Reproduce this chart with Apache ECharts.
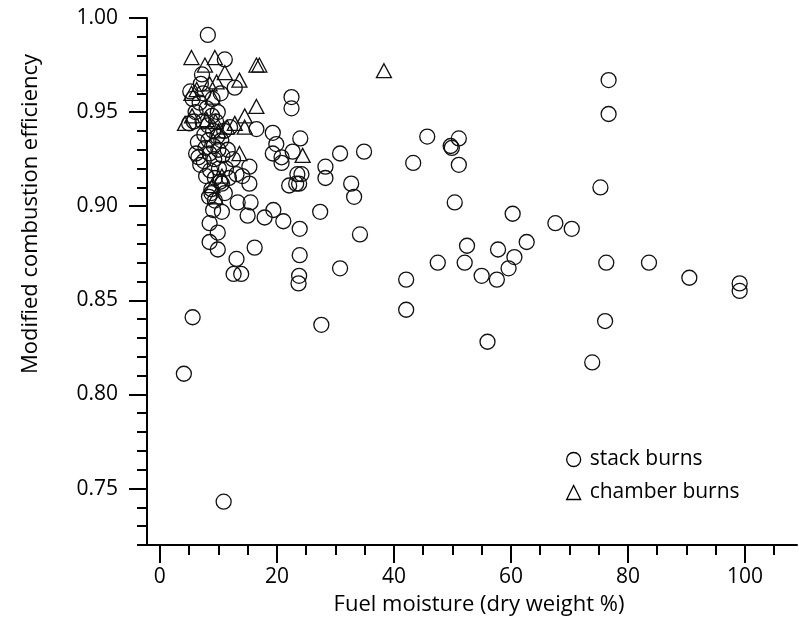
<!DOCTYPE html>
<html><head><meta charset="utf-8">
<script src="https://cdn.jsdelivr.net/npm/echarts@6/dist/echarts.min.js"></script>
<style>html,body{margin:0;padding:0;background:#fff}#c{width:799px;height:644px}</style>
</head><body><div id="c"></div>
<script>
// stack burns: [fuel moisture %, MCE]
const stackBurns = [
  [8.2,0.991],[11.1,0.978],[12.8,0.963],[22.5,0.958],[22.5,0.952],[16.5,0.941],[19.3,0.939],
  [24.0,0.936],[19.9,0.933],[19.3,0.928],[20.8,0.926],[22.7,0.929],[20.8,0.923],[15.3,0.921],
  [24.2,0.917],[23.8,0.912],[30.8,0.928],[34.9,0.929],[28.3,0.921],[28.3,0.915],[32.7,0.912],
  [33.2,0.905],[45.7,0.937],[51.1,0.936],[49.7,0.932],[49.9,0.931],[43.3,0.923],[51.1,0.922],
  [50.4,0.902],[27.4,0.897],[60.3,0.896],[67.6,0.891],[70.4,0.888],[75.3,0.910],[76.7,0.967],
  [76.7,0.949],[23.9,0.888],[34.2,0.885],[62.7,0.881],[52.5,0.879],[57.8,0.877],[60.6,0.873],
  [59.6,0.867],[23.9,0.874],[47.5,0.870],[52.1,0.870],[55.0,0.863],[57.6,0.861],[23.8,0.863],
  [23.7,0.859],[30.8,0.867],[42.1,0.861],[42.1,0.845],[27.6,0.837],[56.0,0.828],[76.3,0.870],
  [83.6,0.870],[90.5,0.862],[99.1,0.859],[99.1,0.855],[76.1,0.839],[73.9,0.817],
  [5.6,0.841],[4.1,0.811],[10.9,0.743],
  [21.1,0.892],[19.4,0.898],[17.9,0.894],[15.0,0.895],[13.3,0.902],[15.5,0.902],[16.2,0.878],
  [13.1,0.872],[12.6,0.864],[13.9,0.864],[9.9,0.877],[8.5,0.881],[8.5,0.891],[9.9,0.886],
  [10.6,0.897],[9.1,0.898],[9.4,0.903],[8.8,0.907],[11.1,0.907],[10.6,0.912],[15.3,0.912],
  [14.1,0.916],[13.1,0.917],[22.1,0.911],[23.3,0.912],[23.5,0.917],
  [5.2,0.961],[5.6,0.957],[5.0,0.944],[5.8,0.945],[6.1,0.950],[6.5,0.934],[6.6,0.926],
  [6.9,0.922],[7.0,0.965],[7.2,0.970],[7.4,0.960],[7.3,0.945],[7.6,0.938],[7.8,0.931],
  [7.5,0.924],[8.0,0.952],[8.2,0.943],[8.3,0.935],[8.5,0.928],[8.6,0.919],[8.8,0.909],
  [8.4,0.905],[8.9,0.948],[9.0,0.957],[9.1,0.940],[9.2,0.932],[9.3,0.925],[9.4,0.915],
  [9.6,0.945],[9.8,0.937],[10.0,0.930],[10.1,0.920],[10.3,0.913],[10.5,0.935],[10.7,0.927],
  [11.0,0.940],[11.3,0.920],[11.6,0.930],[12.0,0.942],[12.5,0.925],[6.2,0.928],[6.8,0.955],
  [9.9,0.950],[10.4,0.960],[7.9,0.916],[11.8,0.915]
];
// chamber burns: [fuel moisture %, MCE]
const chamberBurns = [
  [5.4,0.979],[9.4,0.979],[7.7,0.975],[11.1,0.971],[16.5,0.975],[17.0,0.975],[13.6,0.967],
  [9.7,0.966],[16.5,0.953],[14.5,0.948],[12.8,0.944],[14.5,0.942],[4.3,0.944],[5.4,0.960],
  [13.6,0.928],[24.4,0.927],[38.3,0.972],
  [8.5,0.965],[9.0,0.958],[9.5,0.945],[10.0,0.940],[11.5,0.942],[8.0,0.946],[5.5,0.948],
  [9.5,0.905],[9.0,0.911],[10.6,0.916],[6.3,0.962]
];
const xMinorTicks = [0,5,10,15,20,25,30,35,40,45,50,55,60,65,70,75,80,85,90,95,100,105];
const xMajorTicks = [0,20,40,60,80,100];
const yMinorTicks = [0.72,0.73,0.74,0.75,0.76,0.77,0.78,0.79,0.80,0.81,0.82,0.83,0.84,0.85,0.86,0.87,0.88,0.89,0.90,0.91,0.92,0.93,0.94,0.95,0.96,0.97,0.98,0.99,1.00];
const yMajorTicks = [0.75,0.80,0.85,0.90,0.95,1.00];
const xTitle = 'Fuel moisture (dry weight %)';
const yTitle = 'Modified combustion efficiency';

const FONT = 'Open Sans';
const black = '#000';
const XMIN = -2.2, XMAX = 108.9, YMIN = 0.72, YMAX = 1.0;
const chart = echarts.init(document.getElementById('c'), null, {renderer:'canvas'});
const lineStyle = {color: black, width: 2};
chart.setOption({
  animation: false,
  backgroundColor: '#fff',
  grid: {left: 147, right: 2, top: 18, bottom: 99},
  graphic: [
    {type: 'text', x: 479, y: 605, style: {text: xTitle, font: '22px "Open Sans"', fill: black, align: 'center', verticalAlign: 'middle'}},
    {type: 'text', x: 31, y: 214, rotation: Math.PI / 2, style: {text: yTitle, font: '22px "Open Sans"', fill: black, align: 'center', verticalAlign: 'middle'}}
  ],
  legend: {
    orient: 'vertical', left: 561, top: 444, itemWidth: 14, itemHeight: 14, itemGap: 12,
    textStyle: {fontFamily: FONT, fontSize: 21, color: black, padding: [0,0,0,4]},
    data: [{name: 'stack burns', icon: 'circle'}, {name: 'chamber burns', icon: 'triangle'}],
    itemStyle: {color: 'rgba(0,0,0,0)', borderColor: black, borderWidth: 1.3}
  },
  xAxis: [
    {type: 'value', min: XMIN, max: XMAX, splitLine: {show: false},
     axisLine: {show: true, lineStyle: lineStyle, onZero: false},
     axisTick: {show: true, customValues: xMinorTicks, length: 10, lineStyle: lineStyle},
     axisLabel: {show: false}},
    {type: 'value', min: XMIN, max: XMAX, position: 'bottom', splitLine: {show: false},
     axisLine: {show: false, onZero: false},
     axisTick: {show: true, customValues: xMajorTicks, length: 18, lineStyle: lineStyle},
     axisLabel: {show: true, customValues: xMajorTicks, margin: 22, fontFamily: FONT, fontSize: 21, color: black}}
  ],
  yAxis: [
    {type: 'value', min: YMIN, max: YMAX, splitLine: {show: false},
     axisLine: {show: true, lineStyle: lineStyle, onZero: false},
     axisTick: {show: true, customValues: yMinorTicks, length: 10, lineStyle: lineStyle},
     axisLabel: {show: false}},
    {type: 'value', min: YMIN, max: YMAX, position: 'left', splitLine: {show: false},
     axisLine: {show: false, onZero: false},
     axisTick: {show: true, customValues: yMajorTicks, length: 18, lineStyle: lineStyle},
     axisLabel: {show: true, customValues: yMajorTicks, margin: 29, fontFamily: FONT, fontSize: 21, color: black,
       formatter: v => v.toFixed(2)}}
  ],
  series: [
    {name: 'stack burns', type: 'scatter', xAxisIndex: 0, yAxisIndex: 0, data: stackBurns,
     symbol: 'circle', symbolSize: 15,
     itemStyle: {color: 'rgba(0,0,0,0)', borderColor: '#111', borderWidth: 1.3, opacity: 1}},
    {name: 'chamber burns', type: 'scatter', xAxisIndex: 0, yAxisIndex: 0, data: chamberBurns,
     symbol: 'triangle', symbolSize: [15, 14],
     itemStyle: {color: 'rgba(0,0,0,0)', borderColor: '#111', borderWidth: 1.3, opacity: 1}}
  ]
});
</script></body></html>
